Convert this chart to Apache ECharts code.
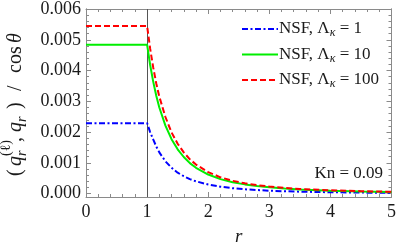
<!DOCTYPE html>
<html><head><meta charset="utf-8">
<script src="https://cdn.jsdelivr.net/npm/echarts@6/dist/echarts.min.js"></script>
<style>html,body{margin:0;padding:0;background:#fff}#c{width:399px;height:252px}</style>
</head><body><div id="c"></div>
<script>
var rVals = [0, 1, 1.05, 1.1, 1.15, 1.2, 1.3, 1.4, 1.5, 1.6, 1.7, 1.8, 2.0, 2.2, 2.4, 2.6, 2.8, 3.0, 3.25, 3.5, 4.0, 4.5, 5.0];
var blueVals = [0.00229, 0.00229, 0.00200, 0.00176, 0.00153, 0.00134, 0.00105, 0.00084, 0.00068, 0.000565, 0.00047, 0.00040, 0.000295, 0.000225, 0.000175, 0.00014, 0.000115, 0.000095, 0.000077, 0.000063, 0.000045, 0.000033, 0.000025];
var greenVals = [0.00484, 0.00484, 0.00418, 0.00364, 0.00318, 0.00280, 0.00221, 0.00177, 0.00144, 0.00119, 0.00099, 0.00084, 0.00062, 0.00047, 0.00037, 0.00030, 0.000245, 0.000205, 0.000165, 0.000135, 0.000095, 0.00007, 0.000053];
var redVals = [0.00545, 0.00545, 0.00471, 0.00410, 0.00358, 0.00315, 0.00249, 0.00199, 0.00162, 0.00134, 0.001115, 0.000945, 0.00070, 0.00053, 0.000415, 0.000335, 0.000275, 0.00023, 0.000185, 0.000152, 0.000107, 0.000079, 0.00006];
var seriesNames = ['NSF, Λκ = 1', 'NSF, Λκ = 10', 'NSF, Λκ = 100'];
var legendLabels = ['NSF, Λ{s|κ} = 1', 'NSF, Λ{s|κ} = 10', 'NSF, Λ{s|κ} = 100'];
var yTicks = [0, 0.001, 0.002, 0.003, 0.004, 0.005, 0.006];
var xTicks = [0, 1, 2, 3, 4, 5];
var knText = 'Kn = 0.09';

var SERIF = "'Liberation Serif', 'Times New Roman', serif";
var FRAME = '#8a8a8a';
var yMinor = [];
for (var i = 0; i < yTicks.length - 1; i++) {
  for (var k = 1; k < 5; k++) yMinor.push(yTicks[i] + (yTicks[i + 1] - yTicks[i]) * k / 5);
}
function pairs(ys) { return rVals.map(function (r, i) { return [r, ys[i]]; }); }

var yBase = { type: 'value', min: -0.00011, max: 0.006, gridIndex: 0, splitLine: { show: false } };
function yAx(pos, major, labels) {
  return Object.assign({}, yBase, {
    position: pos,
    axisLine: { show: true, lineStyle: { color: FRAME, width: 1 } },
    axisTick: { show: true, inside: true, length: major ? 5 : 3, customValues: major ? yTicks : yMinor, lineStyle: { color: FRAME } },
    axisLabel: labels ? { show: true, customValues: yTicks, formatter: function (v) { return v.toFixed(3); }, fontFamily: SERIF, fontSize: 18, color: '#1a1a1a', margin: 5 } : { show: false }
  });
}
function xAx(pos, labels) {
  return {
    type: 'value', min: xTicks[0], max: xTicks[xTicks.length - 1], interval: 1, position: pos,
    splitLine: { show: false },
    axisLine: { show: true, onZero: false, lineStyle: { color: FRAME, width: 1 } },
    axisTick: { show: true, inside: true, length: 5, lineStyle: { color: FRAME } },
    minorTick: { show: true, splitNumber: 5, length: 3, lineStyle: { color: FRAME } },
    axisLabel: labels ? { show: true, fontFamily: SERIF, fontSize: 18, color: '#1a1a1a', margin: 6 } : { show: false },
    name: labels ? 'r' : '', nameLocation: 'middle', nameGap: 30,
    nameTextStyle: { fontFamily: SERIF, fontSize: 19, fontStyle: 'italic', color: '#1a1a1a' }
  };
}

var F = 20, S = 14;
function t(x, y, text, size, italic) {
  return { type: 'text', x: x, y: y, style: { text: text, font: (italic ? 'italic ' : '') + size + 'px ' + SERIF, fill: '#1a1a1a', verticalAlign: 'middle', align: 'left' } };
}
var mb = -0.34 * F, sb = -0.34 * S;
var yLabel = {
  type: 'group', x: 23, y: 177, rotation: Math.PI / 2,
  children: [
    t(1, mb, '(', F, false),
    t(11, mb, 'q', F, true),
    t(21, -11.5 + sb, '(ℓ)', S, false),
    t(21, 4 + sb, 'r', S, true),
    t(35, mb, ',', F, false),
    t(45, mb, 'q', F, true),
    t(55, 4 + sb, 'r', S, true),
    t(68, mb, ')', F, false),
    t(86, mb, '/', F, false),
    t(104, mb, 'cos', F, false),
    t(134, mb, 'θ', F, true)
  ]
};

var chart = echarts.init(document.getElementById('c'), null, { renderer: 'canvas' });
chart.setOption({
  animation: false,
  backgroundColor: '#fff',
  grid: { left: 86, right: 5, top: 7, bottom: 55 },
  xAxis: [xAx('bottom', true), xAx('top', false)],
  yAxis: [yAx('left', true, true), yAx('left', false, false), yAx('right', true, false), yAx('right', false, false)],
  legend: {
    orient: 'vertical', left: 236, top: 14, itemWidth: 36, itemHeight: 18, itemGap: 5.5,
    data: seriesNames,
    itemStyle: { opacity: 0 },
    formatter: function (name) { return legendLabels[seriesNames.indexOf(name)]; },
    textStyle: {
      fontFamily: SERIF, fontSize: 17, color: '#1a1a1a', lineHeight: 20, padding: [0, 0, 0, -4],
      rich: { s: { fontFamily: SERIF, fontSize: 12, fontStyle: 'italic', lineHeight: 12, padding: [8, 0, 0, 0], verticalAlign: 'bottom', color: '#1a1a1a' } }
    }
  },
  graphic: [
    yLabel,
    { type: 'text', right: 16, top: 165, style: { text: knText, font: '17px ' + SERIF, fill: '#1a1a1a' } }
  ],
  series: [
    {
      name: seriesNames[0], type: 'line', data: pairs(blueVals), symbol: 'none', xAxisIndex: 0, yAxisIndex: 0,
      lineStyle: { color: '#0000ff', width: 2, type: [6, 2.5, 2, 2.5] }, itemStyle: { color: '#0000ff' }, z: 3,
      markLine: { silent: true, symbol: 'none', label: { show: false }, lineStyle: { color: '#555', width: 1, type: 'solid' }, data: [{ xAxis: 1 }], z: 1 }
    },
    {
      name: seriesNames[1], type: 'line', data: pairs(greenVals), symbol: 'none', xAxisIndex: 0, yAxisIndex: 0,
      lineStyle: { color: '#00ee00', width: 2, type: 'solid' }, itemStyle: { color: '#00ee00' }, z: 4
    },
    {
      name: seriesNames[2], type: 'line', data: pairs(redVals), symbol: 'none', xAxisIndex: 0, yAxisIndex: 0,
      lineStyle: { color: '#ff0000', width: 2, type: [6, 3] }, itemStyle: { color: '#ff0000' }, z: 5
    }
  ]
});
</script></body></html>
